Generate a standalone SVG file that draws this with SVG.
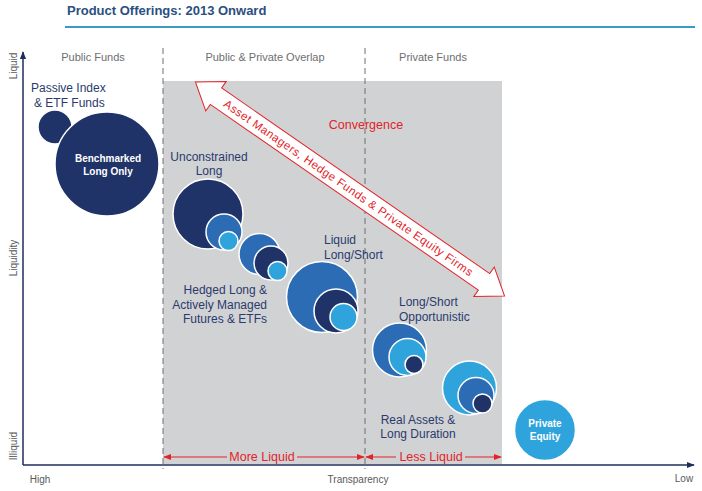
<svg xmlns="http://www.w3.org/2000/svg" width="702" height="491" viewBox="0 0 702 491">
<defs>
<style>
.t{font-family:"Liberation Sans",Arial,sans-serif}
.hd{font-size:11px;fill:#6d6e71}
.ax{font-size:10px;fill:#58595b}
.lb{font-size:12px;fill:#2b3a6e}
.wl{font-size:10px;fill:#fff;font-weight:bold}
.rd{font-size:12.5px;fill:#e2232a}
.navy{fill:#1f3368;stroke:#fff;stroke-width:1.5}
.mid{fill:#2b6cb4;stroke:#fff;stroke-width:1.5}
.lt{fill:#2ea3dc;stroke:#fff;stroke-width:1.5}
.dash{stroke:#6d6e71;stroke-width:1;stroke-dasharray:6,4}
</style>
<marker id="ah" viewBox="0 0 10 10" refX="9" refY="5" markerWidth="8" markerHeight="8" orient="auto-start-reverse" markerUnits="userSpaceOnUse"><path d="M0,1 L10,5 L0,9 z" fill="#e2232a"/></marker>
<marker id="axh" viewBox="0 0 10 10" refX="9" refY="5" markerWidth="8" markerHeight="8" orient="auto" markerUnits="userSpaceOnUse"><path d="M0,1 L10,5 L0,9 z" fill="#1f2d5a"/></marker>
</defs>
<rect width="702" height="491" fill="#fff"/>
<text class="t" x="67" y="15" font-size="13" font-weight="bold" fill="#2a4f80">Product Offerings: 2013 Onward</text>
<line x1="65" y1="27" x2="695" y2="27" stroke="#3a9ac2" stroke-width="2"/>
<rect x="163" y="81" width="339" height="383" fill="#d1d2d4"/>
<g id="connectors">
<line x1="23" y1="465" x2="23" y2="52" stroke="#1f2d5a" stroke-width="1.5" marker-end="url(#axh)"/>
<line x1="23" y1="465" x2="694" y2="465" stroke="#1f2d5a" stroke-width="1.5" marker-end="url(#axh)"/>
<line class="dash" x1="163" y1="48" x2="163" y2="469"/>
<line class="dash" x1="365" y1="48" x2="365" y2="469"/>
<line x1="164" y1="457" x2="227" y2="457" stroke="#e2232a" stroke-width="1" marker-start="url(#ah)"/>
<line x1="297" y1="457" x2="364" y2="457" stroke="#e2232a" stroke-width="1" marker-end="url(#ah)"/>
<line x1="366" y1="457" x2="396" y2="457" stroke="#e2232a" stroke-width="1" marker-start="url(#ah)"/>
<line x1="465" y1="457" x2="501" y2="457" stroke="#e2232a" stroke-width="1" marker-end="url(#ah)"/>
<g id="convergence-arrow" transform="translate(350,189) rotate(34.7)">
<polygon points="-188,0 -163,-18 -163,-10 163,-10 163,-18 188,0 163,18 163,10 -163,10 -163,18" fill="#fff" stroke="#e2232a" stroke-width="1"/>
<text class="t" x="-2" y="4" font-size="11.5" fill="#e2232a" text-anchor="middle" textLength="300" lengthAdjust="spacing">Asset Managers, Hedge Funds &amp; Private Equity Firms</text>
</g>
</g>
<text class="t hd" x="93" y="61" text-anchor="middle">Public Funds</text>
<text class="t hd" x="265" y="61" text-anchor="middle">Public &amp; Private Overlap</text>
<text class="t hd" x="433" y="61" text-anchor="middle">Private Funds</text>
<text class="t ax" transform="translate(17,66) rotate(-90)" text-anchor="middle">Liquid</text>
<text class="t ax" transform="translate(17,258) rotate(-90)" text-anchor="middle" font-size="11">Liquidity</text>
<text class="t ax" transform="translate(17,446) rotate(-90)" text-anchor="middle">Illiquid</text>
<text class="t ax" x="40" y="483" text-anchor="middle">High</text>
<text class="t ax" x="358" y="483" text-anchor="middle" font-size="11.5">Transparency</text>
<text class="t ax" x="684" y="482" text-anchor="middle">Low</text>
<text class="t rd" x="366" y="129" text-anchor="middle">Convergence</text>
<text class="t rd" x="262" y="461" text-anchor="middle">More Liquid</text>
<text class="t rd" x="431" y="461" text-anchor="middle">Less Liquid</text>
<g id="passive-index">
<circle class="navy" cx="55" cy="127" r="17"/>
<text class="t lb" x="31" y="92">Passive Index</text>
<text class="t lb" x="34" y="107">&amp; ETF Funds</text>
</g>
<g id="benchmarked">
<circle class="navy" cx="107" cy="164" r="52"/>
<text class="t wl" x="108" y="162" text-anchor="middle">Benchmarked</text>
<text class="t wl" x="108" y="175" text-anchor="middle">Long Only</text>
</g>
<g id="unconstrained">
<circle class="navy" cx="208" cy="214" r="35"/>
<circle class="mid" cx="224" cy="232" r="18"/>
<circle class="lt" cx="228.5" cy="241" r="9.5"/>
<text class="t lb" x="209" y="161" text-anchor="middle">Unconstrained</text>
<text class="t lb" x="209" y="175" text-anchor="middle">Long</text>
</g>
<g id="hedged-long">
<circle class="mid" cx="259.5" cy="254" r="20.5"/>
<circle class="navy" cx="271" cy="263" r="17"/>
<circle class="lt" cx="277.5" cy="271" r="9.5"/>
<text class="t lb" x="267" y="294" text-anchor="end">Hedged Long &amp;</text>
<text class="t lb" x="267" y="309" text-anchor="end">Actively Managed</text>
<text class="t lb" x="267" y="323" text-anchor="end">Futures &amp; ETFs</text>
</g>
<g id="liquid-long-short">
<circle class="mid" cx="322" cy="297" r="35.5"/>
<circle class="navy" cx="336" cy="311" r="22"/>
<circle class="lt" cx="343.5" cy="317" r="13.5"/>
<text class="t lb" x="324" y="244">Liquid</text>
<text class="t lb" x="324" y="259">Long/Short</text>
</g>
<g id="long-short-opportunistic">
<circle class="mid" cx="399.5" cy="350" r="27"/>
<circle class="lt" cx="407.5" cy="357" r="18.5"/>
<circle class="navy" cx="414" cy="364.5" r="9"/>
<text class="t lb" x="399" y="306">Long/Short</text>
<text class="t lb" x="399" y="321">Opportunistic</text>
</g>
<g id="real-assets">
<circle class="lt" cx="469.5" cy="388" r="27"/>
<circle class="mid" cx="476" cy="395.5" r="18"/>
<circle class="navy" cx="482.5" cy="403.5" r="9.5"/>
<text class="t lb" x="418" y="424" text-anchor="middle">Real Assets &amp;</text>
<text class="t lb" x="418" y="438" text-anchor="middle">Long Duration</text>
</g>
<g id="private-equity">
<circle class="lt" cx="545" cy="430" r="30.5"/>
<text class="t wl" x="545" y="427" text-anchor="middle">Private</text>
<text class="t wl" x="545" y="440" text-anchor="middle">Equity</text>
</g>
</svg>
